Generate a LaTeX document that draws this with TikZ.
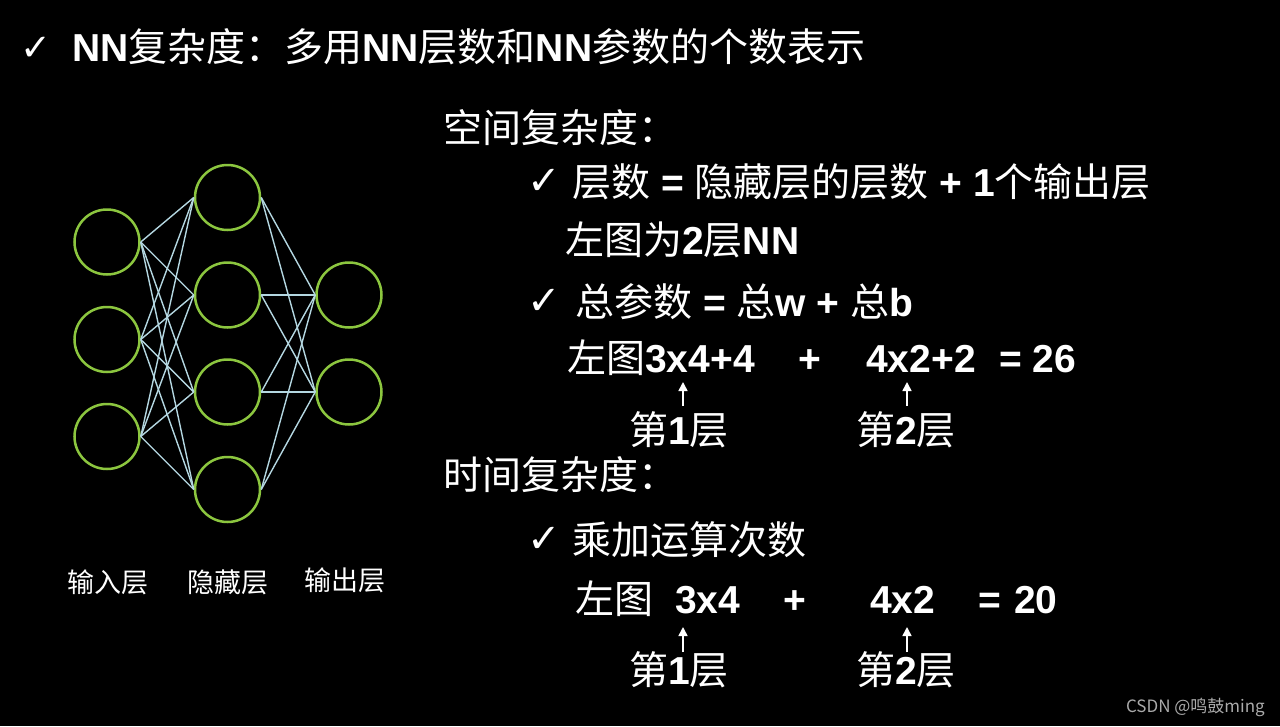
\documentclass[tikz,border=0pt]{standalone}
\usepackage{fontspec}
\setmainfont{Liberation Sans}
\newfontfamily\cjk{Noto Sans CJK SC}
\newfontfamily\symf{DejaVu Sans}
\usetikzlibrary{arrows.meta}
\definecolor{ngreen}{RGB}{140,198,63}
\definecolor{nline}{RGB}{180,215,225}
\definecolor{wm}{RGB}{170,170,170}
\tikzset{
  txt/.style={text=white, inner sep=0pt, anchor=base west, font=\fontsize{39}{46}\selectfont},
  chk/.style={text=white, inner sep=0pt, anchor=base west, font=\symf\fontsize{40}{46}\selectfont},
  neuron/.style={circle, draw=ngreen, line width=2.5pt, minimum size=65pt, inner sep=0pt},
  edge/.style={draw=nline, line width=1.4pt},
  lbl/.style={text=white, inner sep=0pt, anchor=base, font=\cjk\fontsize{27}{32}\selectfont},
  uparrow/.style={draw=white, line width=1.6pt, -{Triangle[length=9pt,width=9pt]}},
}
\begin{document}
\begin{tikzpicture}[x=1pt,y=-1pt]
\fill[black] (0,0) rectangle (1280,726);
\useasboundingbox (0,0) rectangle (1280,726);

% title
\node[chk, font=\symf\fontsize{37}{42}\selectfont] (tchk) at (20,60) {✓};
\node[txt] (title) at (72,61) {\textbf{NN}{\cjk 复杂度：多用}\textbf{NN}{\cjk 层数和}\textbf{NN}{\cjk 参数的个数表示}};

% network
\node[neuron] (i1) at (107,242) {};
\node[neuron] (i2) at (107,339.5) {};
\node[neuron] (i3) at (107,436.5) {};
\node[neuron] (h1) at (227.5,197.5) {};
\node[neuron] (h2) at (227.5,295) {};
\node[neuron] (h3) at (227.5,392) {};
\node[neuron] (h4) at (227.5,489.5) {};
\node[neuron] (o1) at (349,295) {};
\node[neuron] (o2) at (349,392) {};
\foreach \i in {1,2,3}{\foreach \h in {1,2,3,4}{\draw[edge] (i\i.east) -- (h\h.west);}}
\foreach \h in {1,2,3,4}{\foreach \o in {1,2}{\draw[edge] (h\h.east) -- (o\o.west);}}
\node[lbl] (lin) at (108,592) {输入层};
\node[lbl] (lhid) at (227.5,592) {隐藏层};
\node[lbl] (lout) at (345,590) {输出层};

% space complexity
\node[txt] (space) at (443,142) {{\cjk 空间复杂度：}};
\node[chk] (c1) at (527,194) {✓};
\node[txt] (s1) at (572,196) {{\cjk 层数}\textbf{ = }{\cjk 隐藏层的层数}\textbf{ + 1}{\cjk 个输出层}};
\node[txt] (s2) at (565,254) {{\cjk 左图为}\textbf{2}{\cjk 层}\textbf{NN}};
\node[chk] (c2) at (527,314) {✓};
\node[txt] (s3) at (575,316) {{\cjk 总参数}\textbf{ = }{\cjk 总}\textbf{w + }{\cjk 总}\textbf{b}};
\node[txt] (e1a) at (567,372) {{\cjk 左图}\textbf{3x4+4}};
\node[txt, anchor=base] (e1p) at (810,372) {\textbf{+}};
\node[txt] (e1b) at (866,372) {\textbf{4x2+2}};
\node[txt] (e1c) at (999,372) {\textbf{= 26}};
\coordinate (a1s) at (683,406);
\coordinate (a1e) at (683,382);
\coordinate (a2s) at (907,406);
\coordinate (a2e) at (907,382);
\draw[uparrow] (a1s) -- (a1e);
\draw[uparrow] (a2s) -- (a2e);
\node[txt] (l1a) at (629,444) {{\cjk 第}\textbf{1}{\cjk 层}};
\node[txt] (l1b) at (856,444) {{\cjk 第}\textbf{2}{\cjk 层}};

% time complexity
\node[txt] (time) at (443,489) {{\cjk 时间复杂度：}};
\node[chk] (c3) at (527,552) {✓};
\node[txt] (t1) at (572,554) {{\cjk 乘加运算次数}};
\node[txt] (e2a) at (575,613) {{\cjk 左图}};
\node[txt] (e2b) at (675,613) {\textbf{3x4}};
\node[txt, anchor=base] (e2p) at (795,613) {\textbf{+}};
\node[txt] (e2c) at (870,613) {\textbf{4x2}};
\node[txt] (e2d) at (978,613) {\textbf{=}};
\node[txt] (e2e) at (1014,613) {\textbf{20}};
\coordinate (b1s) at (683,652);
\coordinate (b1e) at (683,627);
\coordinate (b2s) at (907,652);
\coordinate (b2e) at (907,627);
\draw[uparrow] (b1s) -- (b1e);
\draw[uparrow] (b2s) -- (b2e);
\node[txt] (l2a) at (629,684) {{\cjk 第}\textbf{1}{\cjk 层}};
\node[txt] (l2b) at (856,684) {{\cjk 第}\textbf{2}{\cjk 层}};

% watermark
\node[text=wm, inner sep=0pt, anchor=base east, font=\cjk\fontsize{17}{20}\selectfont] (wmk) at (1265,712) {CSDN @鸣鼓ming};
\end{tikzpicture}
\end{document}
